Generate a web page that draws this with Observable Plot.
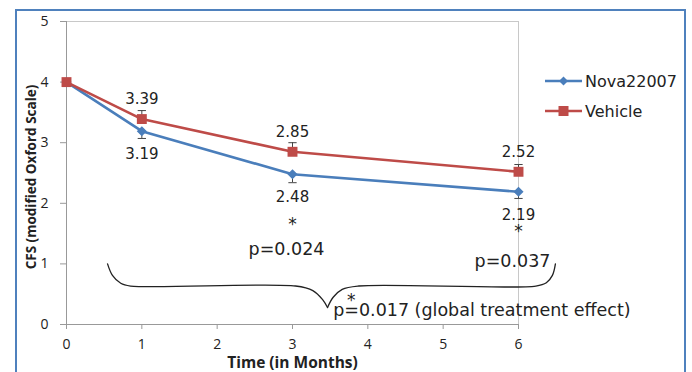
<!DOCTYPE html>
<html>
<head>
<meta charset="utf-8">
<script src="https://cdn.jsdelivr.net/npm/d3@7"></script>
<script src="https://cdn.jsdelivr.net/npm/@observablehq/plot@0.6"></script>
<style>
  html, body { margin: 0; padding: 0; background: #fff; }
  #wrap { position: relative; width: 692px; height: 372px; overflow: hidden; }
  #border { position: absolute; left: 15px; top: 9px; width: 671px; height: 400px; border: 2px solid #4f81bd; box-sizing: border-box; }
  #legend { position: absolute; left: 545px; top: 70px; font-family: "DejaVu Sans", sans-serif; font-size: 16px; color: #222; }
  #legend .item { display: flex; align-items: center; height: 22px; margin-bottom: 8px; }
  #legend svg { margin-right: 3px; }
  #chart { position: absolute; left: 0; top: 0; }
</style>
</head>
<body>
<div id="wrap">
  <div id="border"></div>
  <div id="chart"></div>
  <div id="legend"></div>
</div>
<script>
// ---- data ----
const months = [0, 1, 3, 6];
const nova = [4.00, 3.19, 2.48, 2.19];
const vehicle = [4.00, 3.39, 2.85, 2.52];
const novaErr = [0, 0.12, 0.14, 0.11];
const vehicleErr = [0, 0.14, 0.15, 0.12];
const novaLabels = ["", "3.19", "2.48", "2.19"];
const vehicleLabels = ["", "3.39", "2.85", "2.52"];
const seriesNames = ["Nova22007", "Vehicle"];
const seriesColors = ["#4a7ebb", "#be4b48"];
const yTicks = [0, 1, 2, 3, 4, 5];
const xTicks = [0, 1, 2, 3, 4, 5, 6];
const pNotesCentered = [
  {x: 2.92, y: 1.24, text: "p=0.024"},
  {x: 5.92, y: 1.04, text: "p=0.037"}
];
const pNoteGlobal = [{x: 3.54, y: 0.23, text: "p=0.017 (global treatment effect)"}];
const stars = [
  {x: 3, y: 1.74},
  {x: 6, y: 1.61},
  {x: 3.78, y: 0.48}
];
// curly brace annotation (data units), two halves meeting at the tip
const braceLeft = [[0.545,1.0],[0.61,0.81],[0.72,0.68],[0.85,0.635],[3.04,0.635],[3.27,0.56],[3.40,0.41],[3.465,0.28]];
const braceRight = [[3.465,0.28],[3.54,0.45],[3.66,0.58],[3.88,0.635],[6.23,0.635],[6.37,0.69],[6.45,0.81],[6.49,1.0]];

// ---- tables ----
const rows = [];
months.forEach((m, i) => {
  rows.push({series: seriesNames[0], x: m, y: nova[i], lo: nova[i] - novaErr[i], hi: nova[i], err: novaErr[i], label: novaLabels[i], dir: 1});
  rows.push({series: seriesNames[1], x: m, y: vehicle[i], lo: vehicle[i], hi: vehicle[i] + vehicleErr[i], err: vehicleErr[i], label: vehicleLabels[i], dir: -1});
});
const errRows = rows.filter(d => d.err > 0);
const novaRows = rows.filter(d => d.series === seriesNames[0]);
const vehRows = rows.filter(d => d.series === seriesNames[1]);
const braceRows = [
  ...braceLeft.map(([x, y]) => ({x, y, part: "L"})),
  ...braceRight.map(([x, y]) => ({x, y, part: "R"}))
];
const capHalf = 0.055;

const font = "Open Sans, sans-serif";
const wide = "DejaVu Sans, sans-serif";
const chart = Plot.plot({
  width: 692,
  height: 372,
  marginLeft: 66,
  marginRight: 174,
  marginTop: 21,
  marginBottom: 48,
  style: {fontFamily: font, fontSize: "13px", color: "#222", background: "transparent"},
  x: {domain: [0, 6], ticks: xTicks},
  y: {domain: [0, 5], ticks: yTicks},
  color: {domain: seriesNames, range: seriesColors},
  marks: [
    // frame
    Plot.ruleY([5], {stroke: "#c8c8c8"}),
    Plot.ruleX([6], {stroke: "#c8c8c8"}),
    Plot.ruleX([0], {stroke: "#999"}),
    Plot.ruleY([0], {stroke: "#999"}),
    Plot.axisY({ticks: yTicks, tickFormat: d3.format("d"), tickSize: 6, tickPadding: 12, stroke: "#999", fontSize: 14, label: null}),
    Plot.axisX({ticks: xTicks, tickFormat: d3.format("d"), tickSize: 5, tickPadding: 10, stroke: "#999", fontSize: 14, label: null}),
    // error bars
    Plot.ruleX(errRows, {x: "x", y1: "lo", y2: "hi", stroke: "#444", strokeWidth: 1}),
    Plot.link(errRows, {x1: d => d.x - capHalf, x2: d => d.x + capHalf, y1: d => d.dir > 0 ? d.lo : d.hi, y2: d => d.dir > 0 ? d.lo : d.hi, stroke: "#444", strokeWidth: 1}),
    // lines
    Plot.line(rows, {x: "x", y: "y", z: "series", stroke: "series", strokeWidth: 2.6}),
    Plot.dot(novaRows, {x: "x", y: "y", symbol: "diamond2", r: 3.6, fill: seriesColors[0], stroke: seriesColors[0]}),
    Plot.dot(vehRows, {x: "x", y: "y", symbol: "square", r: 5.6, fill: seriesColors[1], stroke: "none"}),
    // value labels
    Plot.text(vehRows.filter(d => d.label), {x: "x", y: "y", text: "label", dy: -20, fontFamily: wide, fontSize: 15, fill: "#222"}),
    Plot.text(novaRows.filter(d => d.label), {x: "x", y: "y", text: "label", dy: 23, fontFamily: wide, fontSize: 15, fill: "#222"}),
    // brace
    Plot.line(braceRows, {x: "x", y: "y", z: "part", curve: "catmull-rom", stroke: "#222", strokeWidth: 1.3}),
    // significance annotations
    Plot.text(stars, {x: "x", y: "y", text: () => "*", fontFamily: wide, fontSize: 17, dy: 5, fill: "#222"}),
    Plot.text(pNotesCentered, {x: "x", y: "y", text: "text", textAnchor: "middle", fontFamily: wide, fontSize: 17.5, fill: "#222"}),
    Plot.text(pNoteGlobal, {x: "x", y: "y", text: "text", textAnchor: "start", fontFamily: wide, fontSize: 17.5, fill: "#222"}),
    // axis titles
    Plot.text(["Time (in Months)"], {frameAnchor: "bottom", lineAnchor: "middle", textAnchor: "middle", dy: 39, fontWeight: "bold", fontSize: 15.5, fill: "#222"}),
    Plot.text(["CFS (modified Oxford Scale)"], {frameAnchor: "left", rotate: -90, textAnchor: "middle", lineAnchor: "middle", dx: -35, dy: 4, fontWeight: "bold", fontSize: 13.5, fill: "#222"})
  ]
});
document.getElementById("chart").appendChild(chart);

// legend (HTML)
const legend = document.getElementById("legend");
seriesNames.forEach((name, i) => {
  const item = document.createElement("div");
  item.className = "item";
  const marker = i === 0
    ? `<path d="M18.5,-4.5 L23,0 L18.5,4.5 L14,0 Z" fill="${seriesColors[i]}"/>`
    : `<rect x="13.5" y="-5" width="10" height="10" fill="${seriesColors[i]}"/>`;
  item.innerHTML = `<svg width="37" height="12" viewBox="0 -6 37 12"><line x1="0" y1="0" x2="37" y2="0" stroke="${seriesColors[i]}" stroke-width="2.6"/>${marker}</svg><span>${name}</span>`;
  legend.appendChild(item);
});
</script>
</body>
</html>
